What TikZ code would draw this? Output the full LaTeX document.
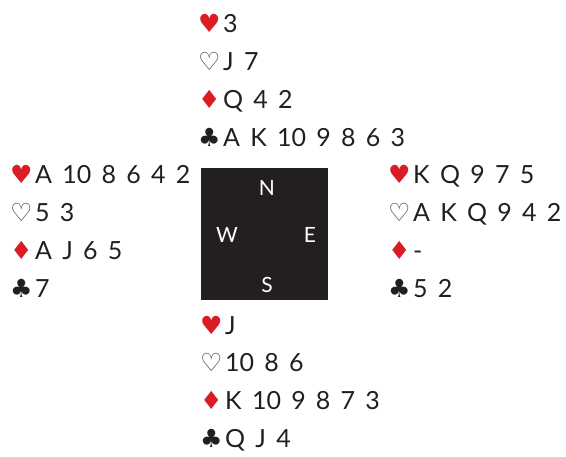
\documentclass[tikz,border=0pt]{standalone}
\usepackage{fontspec}
\setmainfont{Lato}[WordSpace=1.6]
\newfontfamily\suitfont{DejaVu Sans}
\usetikzlibrary{positioning}
\definecolor{suit red}{RGB}{218,28,36}
\definecolor{board}{RGB}{35,31,32}
\newcommand{\redheart}{\makebox[25pt][l]{\suitfont\textcolor{suit red}{♥}}}
\newcommand{\openheart}{\makebox[25pt][l]{\suitfont\textcolor{black!75}{♡}}}
\newcommand{\reddiamond}{\makebox[25pt][l]{\suitfont\textcolor{suit red}{♦}}}
\newcommand{\blackclub}{\makebox[25pt][l]{\suitfont\textcolor{board}{♣}}}
\tikzstyle{hand} = [anchor=base west,inner sep=0pt,align=left,text=board,font=\fontsize{25}{38}\selectfont]
\tikzstyle{seat} = [text=white,inner sep=0pt,font=\fontsize{21}{21}\selectfont]

\begin{document}
\begin{tikzpicture}[x=1pt,y=-1pt]
		\useasboundingbox (0,0) rectangle (566,457);
		\node[fill=board,inner sep=0pt,minimum width=127pt,minimum height=132pt,anchor=north west] (table) at (201,168) {};
		\node[seat] (N) at (267,188) {N};
		\node[seat] (W) at (227,235) {W};
		\node[seat] (E) at (310,235) {E};
		\node[seat] (S) at (267,285) {S};
		
		% base anchor sits on the last line
		\node[hand] (north) at (198,147) {\redheart 3\\\openheart J 7\\\reddiamond Q 4 2\\\blackclub A K 10 9 8 6 3};
		\node[hand] (west) at (10,298) {\redheart A 10 8 6 4 2\\\openheart 5 3\\\reddiamond A J 6 5\\\blackclub 7};
		\node[hand] (east) at (388,298) {\redheart K Q 9 7 5\\\openheart A K Q 9 4 2\\\reddiamond -\\\blackclub 5 2};
		\node[hand] (south) at (200,448) {\redheart J\\\openheart 10 8 6\\\reddiamond K 10 9 8 7 3\\\blackclub Q J 4};
	\end{tikzpicture}
\end{document}
